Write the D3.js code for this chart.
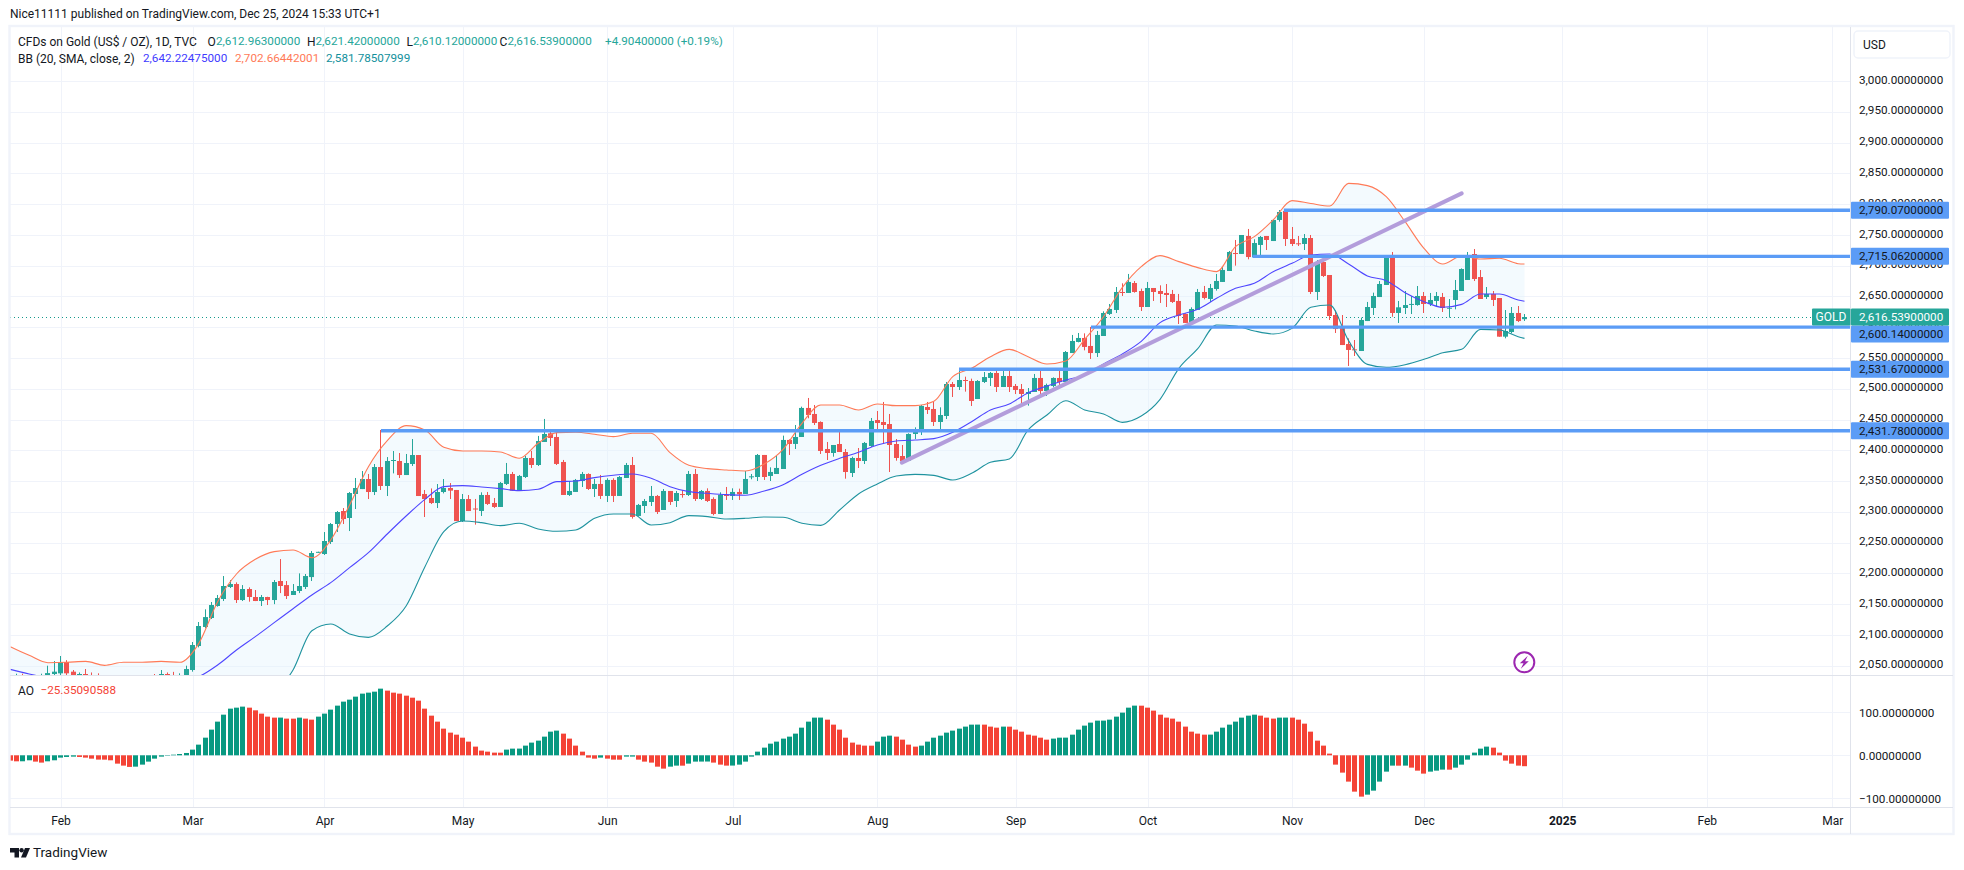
<!DOCTYPE html>
<html><head><meta charset="utf-8">
<script src="https://cdnjs.cloudflare.com/ajax/libs/d3/7.8.5/d3.min.js"></script>
<style>
html,body{margin:0;padding:0;background:#fff;}
svg{display:block;font-family:Roboto,"Noto Sans",sans-serif;}
text{fill:#131722;}
</style></head><body><svg id="c" width="1964" height="870"></svg>
<script>
const opens=[2025,2026,2030,2022,2018,2025,2030,2036.5,2037.6,2056,
2040.3,2032,2036.5,2032,2028,2020,2015,2005,1995,2010,
2018,2025,2028,2032,2028,2036.5,2030,2026,2032,2043,
2082,2112.9,2127.5,2147,2158.4,2177.9,2182.7,2156.7,2174.6,2161.6,
2155.1,2161.6,2156.7,2187.6,2181,2164.9,2171.4,2177.9,2194,2234,
2231.5,2251,2280.2,2301.3,2290,2329,2337,2353.3,2332.2,2372.8,
2342,2383,2382.6,2359.8,2377.7,2392.3,2329,2322.5,2314.3,2332.2,
2338.7,2335.5,2285,2320.8,2305.4,2301.4,2327.4,2314.4,2307.9,2345.3,
2361.5,2335.5,2356.6,2387.5,2376.1,2413.5,2427.6,2421.6,2381,2327.4,
2332.3,2350.1,2361.5,2337.1,2345.3,2325.8,2351.8,2325.8,2355,2376.1,
2293.3,2309.5,2316,2325.8,2303,2333.9,2317.6,2328.9,2327.4,2361.5,
2320.9,2333.9,2320.9,2296.5,2327.4,2325.8,2332.3,2329,2357.1,2356.6,
2392.4,2358.3,2361.5,2369.6,2416.8,2410.3,2421.6,2468.8,2459,2446,
2402.1,2395.6,2410.2,2397.2,2363.1,2387.5,2382.6,2407,2449.2,2446,
2442.7,2410.2,2390.7,2383.1,2426.5,2429.7,2470.3,2467.1,2446,2455.7,
2507.7,2502.8,2514.2,2512.6,2483.3,2511,2517.5,2525.6,2502.8,2520.7,
2504.5,2499.6,2491.5,2494.7,2517.5,2496.3,2504.5,2517.5,2511,2558,
2576,2582.5,2569.5,2558,2585.7,2621.5,2628,2657.2,2655.6,2671.8,
2658.8,2632.8,2663.7,2658.8,2655.6,2654,2642.6,2621.5,2606.9,2628,
2657.2,2645.9,2662.1,2673.5,2691.3,2720.5,2719,2748.2,2714,2733.6,
2748.2,2740,2774.2,2788.8,2743.3,2736.3,2735.2,2744.9,2657.2,2705.9,
2684.8,2619.8,2598.7,2572.7,2564,2561.3,2610,2631.2,2649,2668.6,
2717.3,2623.1,2631.2,2637.2,2636,2650.7,2637.7,2642.6,2649,2631.2,
2644.2,2658.8,2676.7,2718.9,2681.5,2649,2654,2647.4,2584.6,2592.2,
2623.1,2613];
const highs=[2032,2037,2037,2030,2030,2037,2050,2057.6,2065.8,2059,
2043,2039,2044.6,2039,2037.6,2030,2025,2018,2015,2022,
2030,2033,2033,2036.5,2043,2039,2040,2037.6,2050,2088.5,
2121,2141.6,2153.5,2164.9,2195.7,2189.2,2185.4,2181,2177.3,2173,
2164.9,2162,2189.2,2223.3,2187.6,2182.7,2200,2199,2236.4,2235.2,
2267.2,2281.9,2301.3,2306.2,2332.2,2355,2366.3,2361.5,2377.7,2433,
2389,2398.8,2395.6,2394,2418.3,2392.3,2335.5,2338,2345.2,2353.3,
2346.8,2335.5,2329,2327.3,2320.9,2331.7,2332.3,2322.5,2348.5,2379.4,
2364.8,2359.9,2390.8,2398.9,2423.3,2450.9,2434.6,2429.8,2384.3,2350.1,
2353.4,2364.8,2362.6,2353.4,2359.9,2354.5,2354.5,2358.3,2379.4,2389.1,
2312.8,2320.9,2342,2327.4,2337.1,2333.9,2333.9,2335.5,2366.4,2369.6,
2335.5,2338.2,2323.6,2331.7,2340.4,2338.2,2337.7,2366.4,2361.5,2394,
2392.4,2372.3,2390.8,2423.8,2417.8,2441.1,2470.9,2485,2473.6,2447,
2413.5,2408.6,2434,2402.1,2389.6,2403.7,2413.5,2452.5,2463.8,2478.5,
2459,2418.3,2408.6,2427.6,2437.3,2473.6,2478.5,2478.5,2469.8,2511,
2511,2530.5,2519.6,2516.4,2514,2527.2,2527.2,2530.5,2528.8,2528.8,
2507.7,2507.7,2501.2,2524,2530.5,2508.3,2518.5,2530.5,2561.3,2587.4,
2590.6,2590,2600.4,2593.9,2625.8,2637.7,2665.3,2671.3,2686.5,2675,
2662.6,2673.5,2663.7,2668,2670.2,2660.5,2654,2622.5,2632.3,2662.1,
2667,2670.2,2686.5,2697.8,2723.8,2741.7,2749.8,2759.6,2742.8,2748.2,
2748.2,2775.2,2790.4,2791.5,2762.8,2748.2,2751.4,2749.8,2709.2,2710.8,
2684.8,2627,2619.8,2581.9,2579.2,2615.5,2641,2656.1,2675,2717.3,
2722.2,2642.6,2658.8,2650.7,2666.9,2657.2,2655.6,2657.2,2655.6,2645.8,
2676.7,2695.6,2722.2,2727,2692.9,2665.3,2658.8,2647.4,2627.9,2632.8,
2634.4,2621.4];
const lows=[2015,2015,2015,2010,2010,2015,2020,2030,2033,2030,
2020,2025,2025,2020,2015,2005,1995,1985,1990,2000,
2010,2015,2020,2020,2022,2022,2022,2020,2028,2040.3,
2079.8,2110.7,2125.9,2145.9,2155.1,2176.2,2151.9,2155.1,2154,2155,
2147,2148.6,2150,2168,2158.4,2164.9,2168,2174.6,2187.6,2234,
2229.9,2247.7,2267.2,2280.2,2268.8,2304.6,2337,2320.8,2327.3,2335.5,
2325.7,2362.5,2355,2359.8,2374.5,2325.7,2291.6,2312.7,2306.2,2330,
2320.8,2285,2283.5,2301.3,2279.2,2293.3,2311.2,2306.3,2307.9,2343.6,
2333.9,2333.9,2355,2371.3,2374.5,2413.5,2407,2376.1,2327.4,2325.8,
2332.3,2340.4,2335.5,2324.1,2320.9,2316,2316,2325.8,2355,2289,
2292.2,2298.1,2309.5,2296.5,2303,2311.2,2307.9,2323,2325.8,2317.6,
2319.3,2316,2294.4,2296.5,2319.3,2319.3,2319.3,2329,2352.9,2350.1,
2351.8,2350.1,2361.5,2369.6,2392.4,2402.1,2421.6,2452,2441.1,2394,
2384.2,2389.6,2397.2,2353.9,2356.6,2371.2,2377.7,2405.4,2431.3,2410.2,
2364.7,2383.1,2379.4,2383.1,2418.3,2424.8,2459,2439.5,2434,2450.8,
2486.6,2498,2495.3,2472,2483.3,2509.3,2504.5,2494.7,2502.8,2494.7,
2491.4,2473.6,2472.5,2494.7,2486,2488.2,2502.3,2500.7,2511,2558,
2575.4,2562.4,2548.4,2551.6,2585.7,2619.8,2623.1,2650.7,2655.6,2656.1,
2626.3,2632.8,2642.6,2639.4,2632.8,2639.4,2605.2,2606.9,2604.1,2628,
2645.3,2641,2659.4,2673.5,2691.3,2700,2719,2710.3,2713.6,2717.3,
2725.4,2740,2771.4,2731.9,2731.9,2731.9,2725.4,2653.9,2644.2,2681.5,
2611.7,2590.6,2571,2537,2553.2,2561.3,2610,2619.8,2649,2668.6,
2617,2606.8,2621.4,2621.4,2634.9,2623.1,2634.4,2632.8,2624.7,2615.5,
2629,2658.8,2676.7,2675,2645.8,2645.8,2634.4,2584.6,2581.9,2590,
2608.4,2610.1];
const closes=[2028,2030,2022,2018,2025,2030,2038,2040.3,2056,2037.6,
2030,2036.5,2032,2028,2024,2015,2005,2000,2010,2018,
2025,2028,2025,2028,2036.5,2030,2026,2032,2044.6,2083.6,
2114.5,2129,2148.6,2160,2179.5,2182.7,2156.7,2174.6,2161.6,2155.1,
2161.6,2156.7,2186,2179.5,2163.2,2171.4,2179.5,2195.7,2233.1,2235,
2252.6,2280.2,2299.7,2288.3,2330.6,2338.7,2353.3,2332.2,2372.8,2342,
2382.6,2384.2,2359.8,2379.3,2392.3,2325.7,2320.8,2314.3,2332.2,2338.7,
2334.4,2285,2320.8,2301.3,2304.5,2327.4,2312.8,2307.9,2346.9,2361.5,
2334.4,2358.3,2387.5,2376.1,2415.1,2426.5,2420,2377.8,2327.4,2333.9,
2351.8,2361.5,2337.1,2345.3,2325.8,2351.8,2325.8,2356.6,2376.1,2291.7,
2311.2,2317.6,2325.8,2299.8,2333.9,2316,2330.6,2327.9,2361.5,2320.9,
2333.9,2317.6,2296.5,2327.4,2326.5,2332.3,2328.5,2353.4,2357.7,2392.4,
2356.6,2364.8,2371.3,2416.8,2410.3,2421.6,2468.8,2457.4,2444.4,2398.9,
2395.6,2408.6,2397.2,2364.7,2387.5,2382.6,2411.9,2447.6,2444.3,2441.1,
2408.6,2387.5,2382.6,2426.5,2431.3,2472,2465.5,2446,2457.3,2507.7,
2502.8,2514.2,2513.2,2480.1,2512.6,2519,2525.6,2502.8,2520.7,2502.8,
2498,2491.5,2494.7,2517.5,2496.3,2506.1,2517.5,2511,2559.7,2577.6,
2582.5,2567.9,2558,2587.4,2623.1,2629.6,2657.2,2656.2,2673.5,2657.2,
2632.8,2663.7,2657.2,2654,2652.3,2641,2618.2,2606.9,2629.6,2657.2,
2647.5,2663.7,2675.1,2693,2722.2,2719.5,2749.8,2714,2736.8,2746.6,
2741.7,2774.2,2787.2,2743.3,2735.2,2735.5,2744.9,2657.2,2705.9,2683.2,
2618.2,2597,2571,2563,2563.5,2611.7,2632.8,2650.7,2670.2,2717.3,
2623.1,2632.3,2636,2637.8,2650.7,2637.7,2644.2,2650.7,2631.2,2631.6,
2660.4,2694.5,2717.3,2678.3,2645.8,2654,2644.2,2584.6,2593.8,2623.1,
2610,2616.54];

// Bollinger readings, one every third bar plus the last bar
const bbBars=d3.range(0,241,3).concat([241]);
const bbUpper=[2080.9,2066.8,2054.9,2055.5,2057,2050.6,2055.5,2055.5,2057,2055.5,
2086.3,2154,2199,2222.8,2235.3,2238,2225.5,2254.2,2311.1,2373.4,
2415.6,2440,2433,2404.8,2398.8,2398.9,2397.3,2387,2411.3,2428.7,
2429.2,2426,2422.2,2427.6,2427.6,2396.2,2375.6,2370.2,2368,2366.4,
2377.8,2401.6,2443.8,2473.6,2473.6,2465.5,2475.2,2472.5,2472.5,2479.5,
2519.6,2533.2,2552.1,2564,2552,2540.2,2545,2580.3,2617,2664.8,
2698.4,2716.3,2706.5,2696.8,2690.3,2730.9,2747.1,2774.2,2805.6,2801,
2797,2833.7,2830,2812,2771.4,2728.1,2702.7,2715.7,2710.8,2711.9,
2703.2,2702.66];
const bbBasis=[2044,2036.5,2030,2025,2025,2025,2020,2020,2020,2025,
2032.2,2051.1,2075.5,2097.2,2119.9,2142.6,2164.9,2184.9,2209.3,2233.6,
2264,2293.2,2320.3,2340.9,2342.5,2340.4,2337.7,2334.4,2336.6,2349,
2350.1,2355.6,2359.4,2361.5,2354.5,2340.9,2332.8,2330.1,2327.9,2326.9,
2333.9,2344.2,2361,2375.6,2386.9,2396.7,2408.6,2415.1,2416.7,2418.9,
2429.2,2446.5,2465.5,2475.2,2493.6,2504.5,2514.2,2522.3,2540.2,2556.5,
2577,2607.4,2619.8,2629,2646.9,2663.2,2671.3,2690,2703.7,2717.3,
2718.9,2702.7,2683.2,2675.6,2656.1,2641.5,2632.3,2637.1,2654,2654,
2644.2,2642.22];
const bbLower=[2005,2008,2010,1998,1995,1995,1990,1985,1985,1992,
1982,1950,1950,1970,2003,2043,2106.9,2117.7,2101.5,2096,
2114.5,2147,2210.9,2267.8,2285.1,2282.4,2277.6,2281.4,2272.2,2268.4,
2270.5,2289.5,2296.5,2296.5,2278.6,2282.4,2293.8,2292.2,2288.4,2289.5,
2291.6,2291.1,2281.4,2278,2303,2329,2345.2,2358.2,2360.9,2359.3,
2351.7,2362.6,2380.4,2385.9,2433,2457.3,2480.6,2465.5,2459,2445.4,
2455.7,2482.8,2533.2,2565,2603.6,2602,2593.9,2589,2598.1,2632.3,
2636,2578.1,2539.6,2534.8,2539.1,2547.8,2558.6,2564,2596.5,2595.4,
2584.6,2581.79];

const aoValues=[-12.4,-14,-13.9,-11.6,-14.7,-17,-14,-11.6,-5.4,-3.9,
-3.1,-3.9,-5.4,-7.8,-10,-10.1,-11.6,-19.4,-24,-27,
-26.4,-21.7,-14.7,-7.8,-3.1,-1,1.5,3,5.4,13.2,
24.8,41,59.7,78.3,94.5,108.5,110.8,113.2,110.8,104.6,
96.9,89.9,87.6,87.7,85.3,85.2,87.6,85.3,82.9,89.9,
96.9,106.2,115.5,124.8,129.4,136.4,143.4,145.7,148,155,
150.4,145.7,143.4,138.7,134,127.1,108.5,92.2,78.3,62,
52.7,48,41,31.8,20.2,10.9,8.5,6.2,6.1,13.2,
15.5,15.6,22.5,29.5,34.1,43.4,55,57.4,50.4,38.8,
22.5,8.5,-5.4,-7.8,-5.4,-7.8,-10.1,-10.2,-3.1,-3,
-10.1,-14.7,-17,-26.4,-31,-26.4,-24,-24.1,-19.4,-14.7,
-14.6,-14.5,-17,-21.7,-24,-23.9,-21.7,-14.7,-3.1,8.5,
17.8,27.1,31.8,38.8,43.4,50.4,64.3,78.3,87.6,87.7,
82.9,71.3,59.7,41,29.5,24.8,22.5,22.4,31.8,43.4,
45.7,43.4,36.4,24.8,20.2,22.5,31.8,41,45.7,52.7,
57.4,62,66.7,71.3,71.4,71.3,66.7,64.3,66.7,66.6,
59.7,55,48,45.7,41,36.4,38.8,41,41.1,48,
59.7,69,76,80.6,80.7,82.9,89.9,99.2,110.8,115.5,
115.4,110.8,103.9,94.5,87.6,85.3,78.3,66.7,55,50.4,
48,48.1,55,64.3,71.3,78.3,87.6,92.2,94.5,92.2,
87.6,85.3,87.6,87.7,87.6,82.9,73.6,55,34.1,22.5,
3.9,-21.7,-40.3,-61.2,-84.5,-96.1,-91.5,-82.2,-61.2,-38,
-24,-24.1,-24,-28.7,-35.7,-42.6,-38,-35.7,-33.3,-33.4,
-28.7,-21.7,-10.1,6.2,15.5,20.2,17.8,6.2,-12.4,-19.4,
-24,-25.35];

const priceTicks=d3.range(3000,2049,-50);
const aoTicks=[100,0,-100];
const monthBars=[8,29,50,72,95,115,138,160,181,204,225,247,270,290];
const monthLabels=["Feb","Mar","Apr","May","Jun","Jul","Aug","Sep","Oct","Nov","Dec","2025","Feb","Mar"];
const levelPrices=[2790.07,2715.062,2600.14,2531.67,2431.78];
const levelStarts=[202.7,197.7,172,151,59];
const trendBars=[141.9,231];
const trendPrices=[2379.9,2817.5];
const lastPrice=2616.539;

const green="#26a69a",red="#ef5350",aoGreen="#089981",aoRed="#f44336";
const upCol="#ff7a57",baseCol="#4f46ff",lowCol="#1f939f",lvlCol="#5b9cf6",gridCol="#f0f3fa",sepCol="#e0e3eb";
const numSize=11.7;

const L=10,R=1851,T=27,MB=676,AB=807,BB=834;
const svg=d3.select("#c");
const x=d3.scaleLinear().domain([0,293]).range([10.3,1851.2]);
const y=d3.scaleLinear().domain([3000,2050]).range([81,665.7]);
const ya=d3.scaleLinear().domain([100,-100]).range([712.3,798.3]);

const defs=svg.append("defs");
defs.append("clipPath").attr("id","mp").append("rect").attr("x",L).attr("y",T).attr("width",R-L).attr("height",MB-T);
defs.append("clipPath").attr("id","ap").append("rect").attr("x",L).attr("y",MB).attr("width",R-L).attr("height",AB-MB);

// grid
const grid=svg.append("g").attr("stroke",gridCol).attr("stroke-width",1);
grid.selectAll(".h").data(priceTicks).join("line").attr("x1",L).attr("x2",R).attr("y1",d=>Math.round(y(d))+.5).attr("y2",d=>Math.round(y(d))+.5);
grid.selectAll(".a").data(aoTicks).join("line").attr("x1",L).attr("x2",R).attr("y1",d=>Math.round(ya(d))+.5).attr("y2",d=>Math.round(ya(d))+.5);
grid.selectAll(".v").data(monthBars).join("line").attr("x1",d=>Math.round(x(d))+.5).attr("x2",d=>Math.round(x(d))+.5).attr("y1",T).attr("y2",AB);

const main=svg.append("g").attr("clip-path","url(#mp)");
const bbX=(d,i)=>x(bbBars[i]);
main.append("path").datum(bbBars).attr("fill","#e3f2fd").attr("fill-opacity",.42)
 .attr("d",d3.area().x(bbX).y0((d,i)=>y(bbLower[i])).y1((d,i)=>y(bbUpper[i])).curve(d3.curveMonotoneX));

// last price dotted
main.append("line").attr("x1",L).attr("x2",R).attr("y1",Math.round(y(lastPrice))+.5).attr("y2",Math.round(y(lastPrice))+.5)
 .attr("stroke","#159a8c").attr("stroke-dasharray","1 3");

// candles
const bars=d3.range(opens.length);
const col=i=>closes[i]>=opens[i]?green:red;
const cg=main.append("g");
cg.selectAll(".w").data(bars).join("rect").attr("x",i=>Math.round(x(i)-.5)).attr("width",1)
 .attr("y",i=>y(highs[i])).attr("height",i=>Math.max(1,y(lows[i])-y(highs[i]))).attr("fill",col);
cg.selectAll(".b").data(bars).join("rect").attr("x",i=>Math.round(x(i)-.5)-2).attr("width",5)
 .attr("y",i=>y(Math.max(opens[i],closes[i]))).attr("height",i=>Math.max(1,Math.abs(y(opens[i])-y(closes[i])))).attr("fill",col);

// bands
const ln=a=>d3.line().x(bbX).y((d,i)=>y(a[i])).curve(d3.curveMonotoneX)(bbBars);
[[bbUpper,upCol],[bbLower,lowCol],[bbBasis,baseCol]].forEach(([a,c])=>{
 main.append("path").attr("d",ln(a)).attr("fill","none").attr("stroke",c).attr("stroke-width",1.1);
});

// trend line
main.append("line").attr("x1",x(trendBars[0])).attr("x2",x(trendBars[1])).attr("y1",y(trendPrices[0])).attr("y2",y(trendPrices[1]))
 .attr("stroke","#b39ddb").attr("stroke-width",4).attr("stroke-linecap","round");
// levels
main.selectAll(".lv").data(levelPrices).join("line").attr("x1",(d,i)=>x(levelStarts[i])).attr("x2",R)
 .attr("y1",d=>y(d)).attr("y2",d=>y(d)).attr("stroke",lvlCol).attr("stroke-width",3.4);

// AO bars
const ag=svg.append("g").attr("clip-path","url(#ap)");
ag.selectAll("rect").data(aoValues).join("rect")
 .attr("x",(d,i)=>Math.round(x(i)-.5)-2).attr("width",5)
 .attr("y",d=>Math.min(ya(d),ya(0))).attr("height",d=>Math.abs(ya(d)-ya(0)))
 .attr("fill",(d,i)=>(i===0?d<0:d<aoValues[i-1])?aoRed:aoGreen);

// frame
svg.append("rect").attr("x",9.5).attr("y",26).attr("width",1944).attr("height",808).attr("fill","none").attr("stroke",gridCol).attr("stroke-width",2.4);
const sep=svg.append("g").attr("stroke",sepCol).attr("stroke-width",1);
sep.append("line").attr("x1",L).attr("x2",1953).attr("y1",675.5).attr("y2",675.5);
sep.append("line").attr("x1",L).attr("x2",1953).attr("y1",807.5).attr("y2",807.5);
sep.append("line").attr("x1",1850.5).attr("x2",1850.5).attr("y1",T).attr("y2",BB);

// axes
const fmt=d3.format(",.8f");
const pax=svg.append("g").attr("transform",`translate(${R},-1.6)`)
 .call(d3.axisRight(y).tickValues(priceTicks).tickFormat(fmt).tickSize(0).tickPadding(8));
const aax=svg.append("g").attr("transform",`translate(${R},0)`)
 .call(d3.axisRight(ya).tickValues(aoTicks).tickFormat(fmt).tickSize(0).tickPadding(8));
const tax=svg.append("g").attr("transform",`translate(0,${AB+9.5})`)
 .call(d3.axisBottom(x).tickValues(monthBars).tickFormat((d,i)=>monthLabels[i]).tickSize(0).tickPadding(0));
[pax,aax,tax].forEach(g=>{g.select(".domain").remove();g.attr("font-family",null).attr("font-size",null);
 g.selectAll("text").style("font-size","12px").style("fill","#131722");});
[pax,aax].forEach(g=>g.selectAll("text").style("font-size",numSize+"px"));
tax.selectAll("text").filter(d=>d===247).style("font-weight","700");

// level & price labels on the axis
const labs=svg.append("g");
function tag(price,cy,bg,fg){
 labs.append("rect").attr("x",R).attr("y",cy-8.5).attr("width",98).attr("height",17).attr("rx",1).attr("fill",bg);
 labs.append("text").attr("x",R+8).attr("y",cy).attr("dy",".34em").attr("font-size",numSize).style("fill",fg).text(fmt(price));
}
const ly=y(lastPrice);
levelPrices.forEach(p=>{let cy=y(p); if(Math.abs(cy-ly)<17) cy=ly+17; tag(p,cy,lvlCol,"#131722");});
tag(lastPrice,ly,green,"#fff");
labs.append("rect").attr("x",1812).attr("y",ly-8.5).attr("width",38.5).attr("height",17).attr("rx",1).attr("fill",green);
labs.append("text").attr("x",1831).attr("y",ly).attr("dy",".34em").attr("text-anchor","middle").attr("font-size",12).style("fill","#fff").text("GOLD");

// USD button
svg.append("rect").attr("x",1854).attr("y",31).attr("width",96).attr("height",27).attr("rx",4).attr("fill","#fff").attr("stroke",gridCol).attr("stroke-width",1.5);
svg.append("text").attr("x",1863).attr("y",44.5).attr("dy",".34em").attr("font-size",12).text("USD");

// texts
function t(x0,y0,s,c,fs){const e=svg.append("text").attr("x",x0).attr("y",y0).attr("dy",".34em").attr("font-size",fs||12).text(s);if(c)e.style("fill",c);return e;}
t(10,14,"Nice11111 published on TradingView.com, Dec 25, 2024 15:33 UTC+1",null,12);
const vg="#26a69a";
t(18,41.5,"CFDs on Gold (US$ / OZ), 1D, TVC");
t(207.5,41.5,"O");t(216,41.5,"2,612.96300000",vg,numSize);
t(307,41.5,"H");t(315.5,41.5,"2,621.42000000",vg,numSize);
t(406.5,41.5,"L");t(413,41.5,"2,610.12000000",vg,numSize);
t(499.5,41.5,"C");t(507.5,41.5,"2,616.53900000",vg,numSize);
t(605,41.5,"+4.90400000 (+0.19%)",vg,numSize);
t(18,58.5,"BB (20, SMA, close, 2)");
t(143,58.5,"2,642.22475000","#3f3bff",numSize);
t(235,58.5,"2,702.66442001",upCol,numSize);
t(326,58.5,"2,581.78507999","#12909c",numSize);
t(18,690.5,"AO");
t(40.5,690.5,"\u221225.35090588",aoRed,numSize);

// bolt icon
const bolt=svg.append("g").attr("transform","translate(1524.3,662.3)");
bolt.append("circle").attr("r",10).attr("fill","#fff").attr("stroke","#9c27b0").attr("stroke-width",2);
bolt.append("path").attr("d","M3.5,-6.5 L-4.5,1 L-0.8,1 L-3.5,6.5 L4.5,-1 L0.8,-1 Z").attr("fill","#9c27b0");

// logo
const lg=svg.append("g").attr("fill","#131722");
lg.append("path").attr("d","M10,848 H19 V857.5 H14.5 V852.5 H10 Z");
lg.append("circle").attr("cx",21.6).attr("cy",850.2).attr("r",2.2);
lg.append("path").attr("d","M25,848 H30 L26,857.5 H21 Z");
t(33,852.5,"TradingView",null,13.5);
</script></body></html>
